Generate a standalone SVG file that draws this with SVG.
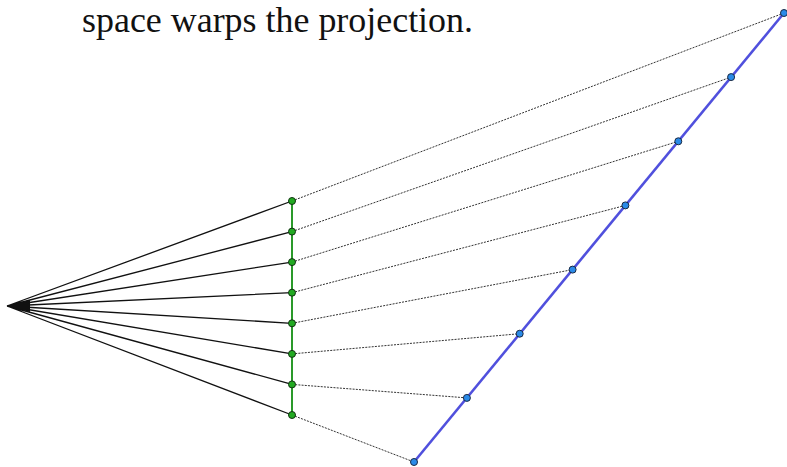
<svg xmlns="http://www.w3.org/2000/svg" width="787" height="467" viewBox="0 0 787 467">
<style>
.ray{stroke:#111;stroke-width:1.3;fill:none}
.dot{stroke:#333;stroke-width:1;stroke-dasharray:2 1.2;fill:none}
.gl{stroke:#2a9a2a;stroke-width:2;fill:none}
.bl{stroke:#5050dd;stroke-width:2.6;fill:none}
.gd{fill:#22aa22;stroke:#113311;stroke-width:1}
.bd{fill:#2a8ae8;stroke:#1a2a44;stroke-width:1}
.t{font-family:"Liberation Serif","Times New Roman",serif;font-size:36px;fill:#111}
</style>
<rect width="787" height="467" fill="#fff"/>
<text class="t" x="82" y="32" textLength="391" lengthAdjust="spacingAndGlyphs">space warps the projection.</text>
<g id="connectors">
<path class="ray" d="M7,306 L292,201 M7,306 L292,231.6 M7,306 L292,262.1 M7,306 L292,292.7 M7,306 L292,323.3 M7,306 L292,353.9 M7,306 L292,384.4 M7,306 L292,415"/>
<path class="dot" d="M292,201 L784,13 M292,231.6 L731.1,77.1 M292,262.1 L678.3,141.3 M292,292.7 L625.4,205.4 M292,323.3 L572.6,269.6 M292,353.9 L519.7,333.7 M292,384.4 L466.9,397.9 M292,415 L414,462"/>
<path class="gl" d="M292,201 L292,415"/>
<path class="bl" d="M414,462 L784,13"/>
</g>
<g id="apex"><path d="M7,306 L30,300 L30,312 Z" fill="#111"/></g>
<g id="green-points">
<circle class="gd" cx="292" cy="201" r="3.5"/>
<circle class="gd" cx="292" cy="231.6" r="3.5"/>
<circle class="gd" cx="292" cy="262.1" r="3.5"/>
<circle class="gd" cx="292" cy="292.7" r="3.5"/>
<circle class="gd" cx="292" cy="323.3" r="3.5"/>
<circle class="gd" cx="292" cy="353.9" r="3.5"/>
<circle class="gd" cx="292" cy="384.4" r="3.5"/>
<circle class="gd" cx="292" cy="415" r="3.5"/>
</g>
<g id="blue-points">
<circle class="bd" cx="414" cy="462" r="3.5"/>
<circle class="bd" cx="466.9" cy="397.9" r="3.5"/>
<circle class="bd" cx="519.7" cy="333.7" r="3.5"/>
<circle class="bd" cx="572.6" cy="269.6" r="3.5"/>
<circle class="bd" cx="625.4" cy="205.4" r="3.5"/>
<circle class="bd" cx="678.3" cy="141.3" r="3.5"/>
<circle class="bd" cx="731.1" cy="77.1" r="3.5"/>
<circle class="bd" cx="784" cy="13" r="3.5"/>
</g>
</svg>
